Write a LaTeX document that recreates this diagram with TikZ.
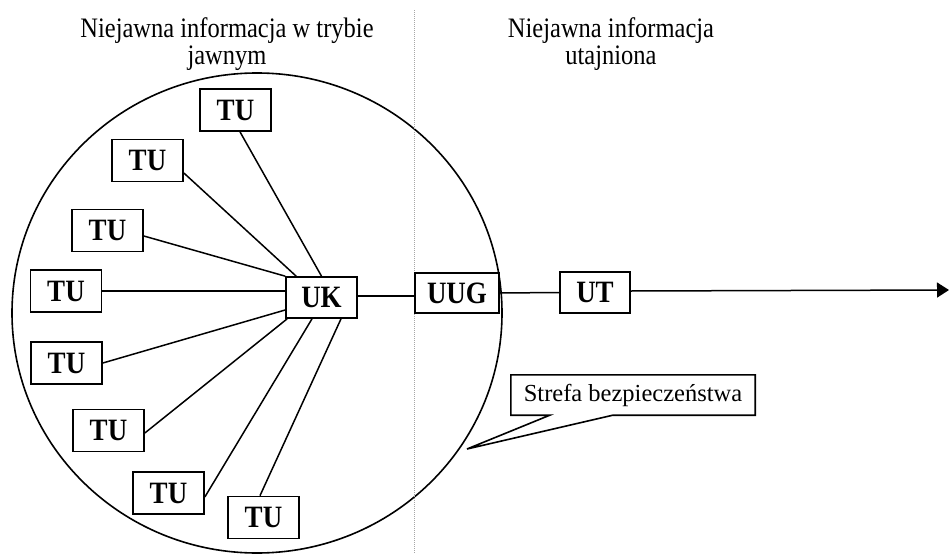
\documentclass[tikz,border=0pt]{standalone}
\usepackage{fontspec}
\setmainfont{Liberation Serif}
\usetikzlibrary{arrows.meta,calc}
\newcommand\talltext[1]{\scalebox{1}[1.15]{#1}}
\begin{document}
\begin{tikzpicture}[x=1pt,y=-1pt,
  unit/.style={draw,line width=1.7pt,minimum width=71pt,minimum height=42pt,inner sep=0pt,font=\fontsize{27}{27}\selectfont\bfseries},
  conn/.style={line width=1.5pt},
  lbl/.style={align=center,font=\fontsize{24.5}{26.5}\selectfont},
  zone/.style={line width=1pt,gray!70,densely dotted}]
\useasboundingbox (0,0) rectangle (951,554);
\fill[white] (0,0) rectangle (951,554);
% security zone circle
\draw[line width=1.6pt] (257,313) ellipse [x radius=245, y radius=240];
% dotted boundary
\coordinate (zt) at (414,10);
\coordinate (zb) at (414,554);
\draw[zone] (zt) -- (zb);
% headings
\node[lbl] (h1) at (227,44) {\talltext{Niejawna informacja w trybie}\\\talltext{jawnym}};
\node[lbl] (h2) at (611,44) {\talltext{Niejawna informacja}\\\talltext{utajniona}};
% units
\node[unit] (tu1) at (235.5,110) {\talltext{TU}};
\node[unit] (tu2) at (147.5,160.5) {\talltext{TU}};
\node[unit] (tu3) at (107.5,230.5) {\talltext{TU}};
\node[unit] (tu4) at (66,291) {\talltext{TU}};
\node[unit] (tu5) at (66.5,363) {\talltext{TU}};
\node[unit] (tu6) at (108.5,430.5) {\talltext{TU}};
\node[unit] (tu7) at (168.5,493) {\talltext{TU}};
\node[unit] (tu8) at (263.5,517.5) {\talltext{TU}};
\node[unit,minimum height=41pt] (uk) at (321.5,297.5) {\talltext{UK}};
\node[unit,minimum width=84pt,minimum height=40pt] (uug) at (457,293) {\talltext{UUG}};
\node[unit,minimum width=70pt,minimum height=41pt] (ut) at (595,292.5) {\talltext{UT}};
% connectors TU -> UK
\draw[conn] ($(tu1.south)+(4.5,0)$) -- (uk.north);
\draw[conn] ($(tu2.east)+(0,12.5)$) -- ($(uk.north west)+(11,0)$);
\draw[conn] ($(tu3.east)+(0,5.5)$) -- (uk.north west);
\draw[conn] (tu4.east) -- (uk.west |- tu4.east);
\draw[conn] (tu5.east) -- ($(uk.west)+(0,12.5)$);
\draw[conn] ($(tu6.east)+(0,2.5)$) -- ($(uk.south west)+(2,0)$);
\draw[conn] ($(tu7.east)+(0,4)$) -- ($(uk.south)+(-9.5,0)$);
\draw[conn] ($(tu8.north)+(-3.5,0)$) -- ($(uk.south)+(19.5,0)$);
% main chain
\draw[conn] ($(uk.east)+(0,-1.5)$) -- ($(uug.west)+(0,3)$);
\draw[conn] (uug.east) -- (ut.west);
\coordinate (out) at (949,290);
\draw[conn,-{Triangle[length=12pt,width=15pt]}] ($(ut.east)+(0,-1.5)$) -- (out);
% callout
\node[font=\fontsize{24.5}{24.5}\selectfont,minimum width=244pt,minimum height=40pt,inner sep=0pt] (cl) at (633,395) {Strefa bezpieczeństwa};
\coordinate (tip) at (467,449);
\draw[line width=1.6pt,line join=miter] (cl.north west) -- (cl.north east) -- (cl.south east) -- ($(cl.south west)+(102,0)$) -- (tip) -- ($(cl.south west)+(39,0)$) -- (cl.south west) -- cycle;
\end{tikzpicture}
\end{document}
